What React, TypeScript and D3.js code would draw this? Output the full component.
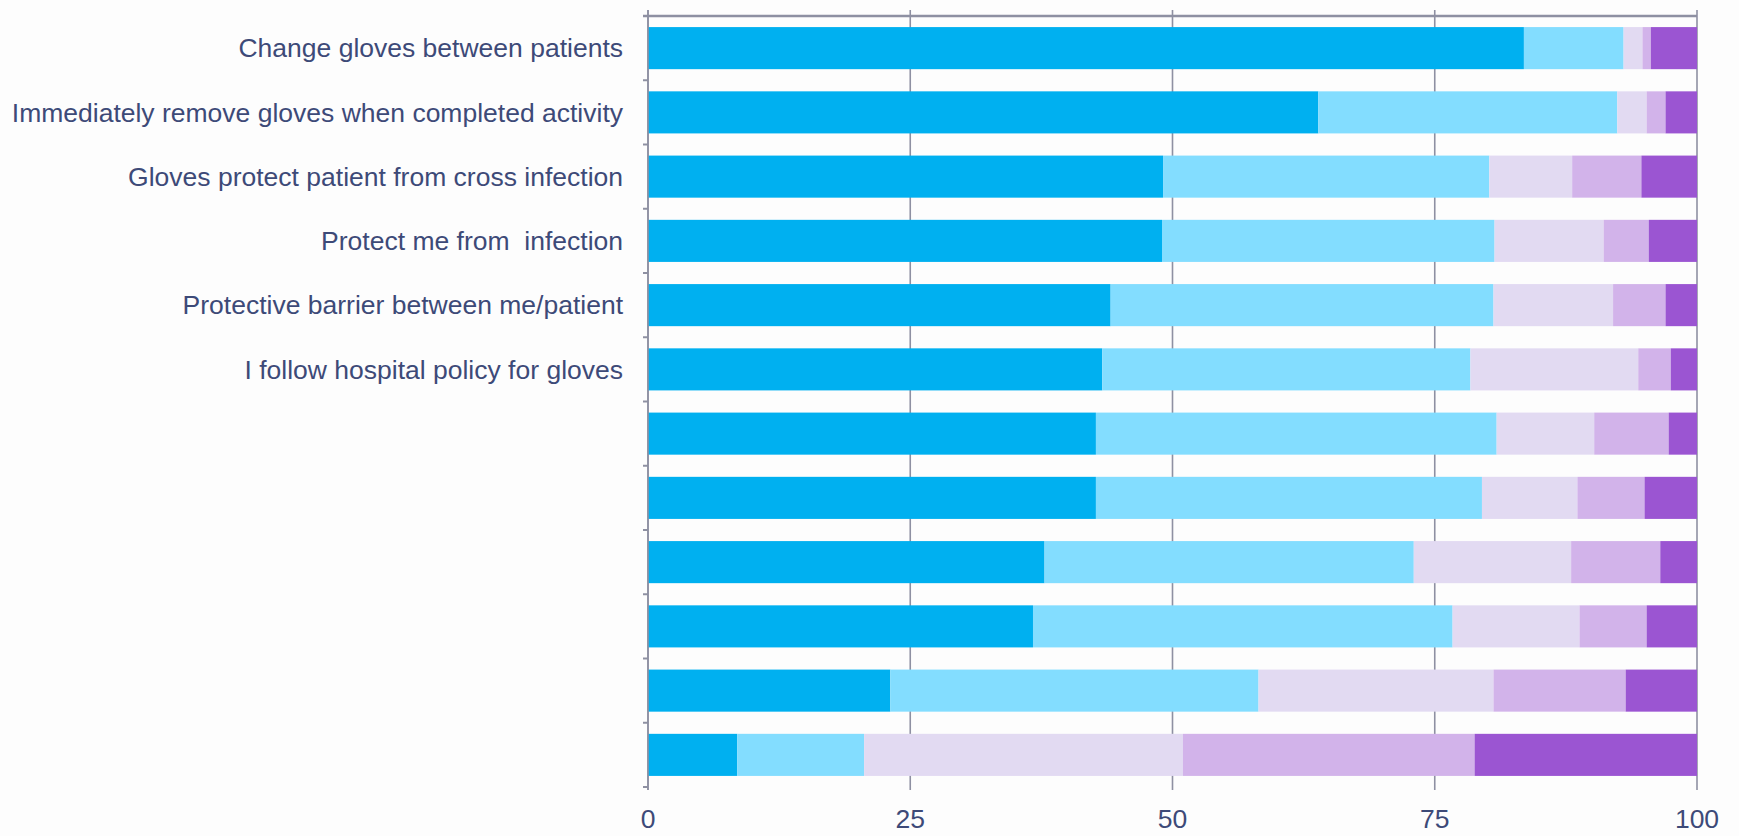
import React from "react";
import * as d3 from "d3";

const categories = [
  "Change gloves between patients",
  "Immediately remove gloves when completed activity",
  "Gloves protect patient from cross infection",
  "Protect me from  infection",
  "Protective barrier between me/patient",
  "I follow hospital policy for gloves",
  "",
  "",
  "",
  "",
  "",
  "",
];

const seriesKeys = ["s1", "s2", "s3", "s4", "s5"];
const s1 = [83.5, 63.9, 49.1, 49.0, 44.1, 43.3, 42.7, 42.7, 37.8, 36.7, 23.1, 8.5];
const s2 = [9.5, 28.5, 31.1, 31.7, 36.5, 35.1, 38.2, 36.8, 35.2, 40.0, 35.1, 12.1];
const s3 = [1.8, 2.8, 7.9, 10.4, 11.4, 16.0, 9.3, 9.1, 15.0, 12.1, 22.4, 30.4];
const s4 = [0.8, 1.8, 6.6, 4.3, 5.0, 3.1, 7.1, 6.4, 8.5, 6.4, 12.6, 27.8];
const s5 = [4.4, 3.0, 5.3, 4.6, 3.0, 2.5, 2.7, 5.0, 3.5, 4.8, 6.8, 21.2];
const xTicks = [0, 25, 50, 75, 100];

const colors = ["#00B0F0", "#83DDFF", "#E2DAF2", "#D2B3EA", "#9B55D2"];

export default function App() {
  const W = 1739;
  const H = 836;
  const left = 648;
  const right = 1697;
  const top = 16;
  const bottom = 787;

  const rows = categories.map((c, i) => ({
    idx: String(i),
    label: c,
    s1: s1[i],
    s2: s2[i],
    s3: s3[i],
    s4: s4[i],
    s5: s5[i],
  }));

  const x = d3.scaleLinear().domain([0, 100]).range([left, right]);
  const y = d3
    .scaleBand<string>()
    .domain(rows.map((r) => r.idx))
    .range([top, bottom])
    .paddingInner(0.345)
    .paddingOuter(0.1725);

  const stack = d3.stack<any>().keys(seriesKeys);
  const stacked = stack(rows);

  const textColor = "#3D4A78";
  const gridColor = "#8E90A2";
  const font = "'Liberation Sans', Arial, sans-serif";
  const bandStep = y.step();
  const boundaries = d3.range(categories.length + 1).map((i) => top + i * bandStep);

  return (
    <svg
      width={W}
      height={H}
      style={{ position: "absolute", left: 0, top: 0, display: "block", background: "#FDFDFD" }}
    >
      {/* gridlines */}
      {xTicks.map((t) => (
        <line
          key={"g" + t}
          x1={x(t)}
          x2={x(t)}
          y1={top - 6}
          y2={bottom + 3}
          stroke={gridColor}
          strokeWidth={1.6}
        />
      ))}
      {/* top line */}
      <line x1={left - 5} x2={right} y1={top} y2={top} stroke={gridColor} strokeWidth={2.6} />
      {/* left axis ticks */}
      {boundaries.map((b, i) => (
        <line key={"t" + i} x1={left - 5} x2={left} y1={b} y2={b} stroke={gridColor} strokeWidth={2} />
      ))}
      {/* bars */}
      {stacked.map((layer, si) =>
        layer.map((d, i) => (
          <rect
            key={si + "-" + i}
            x={x(d[0])}
            y={y(rows[i].idx)}
            width={x(d[1]) - x(d[0])}
            height={y.bandwidth()}
            fill={colors[si]}
          />
        ))
      )}
      {/* left axis line */}
      <line x1={left} x2={left} y1={top - 6} y2={bottom + 3} stroke={gridColor} strokeWidth={1.6} />
      {/* category labels */}
      {rows.map((r) => (
        <text
          key={"l" + r.idx}
          x={left - 25}
          y={(y(r.idx) as number) + y.bandwidth() / 2}
          dy="0.35em"
          textAnchor="end"
          fontFamily={font}
          fontSize={26.5}
          fill={textColor}
          style={{ whiteSpace: "pre" }}
        >
          {r.label}
        </text>
      ))}
      {/* x tick labels */}
      {xTicks.map((t) => (
        <text
          key={"x" + t}
          x={x(t)}
          y={819}
          dy="0.35em"
          textAnchor="middle"
          fontFamily={font}
          fontSize={26.5}
          fill={textColor}
        >
          {t}
        </text>
      ))}
    </svg>
  );
}
